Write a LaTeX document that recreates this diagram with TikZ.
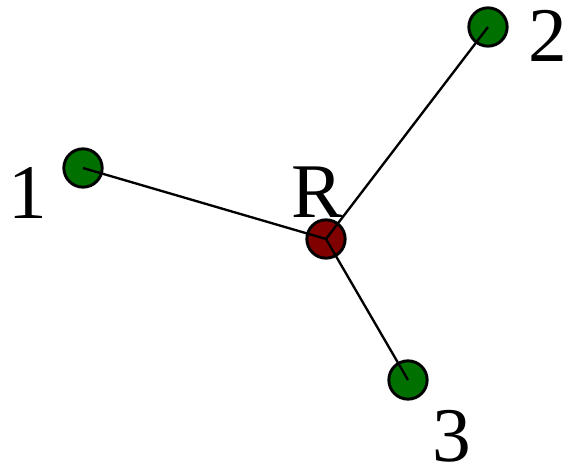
\documentclass[tikz,border=0pt]{standalone}
\usepackage{fontspec}
\setmainfont{Liberation Serif}
\usepackage{tikz}

\definecolor{sitegreen}{RGB}{0,112,0}
\definecolor{rootred}{RGB}{128,0,0}

\begin{document}
\begin{tikzpicture}[
        x=0.03cm, y=-0.03cm,
        site/.style={circle, draw, line width=2.5pt, minimum size=1.15cm, inner sep=0pt},
        tag/.style={font=\fontsize{66}{66}\selectfont, inner sep=0pt},
        link/.style={line width=2pt},
    ]
        \useasboundingbox (0,0) rectangle (577,475);

        % ====== 节点 ======
        \node[site, fill=rootred]    (r)     at (326,239) {};
        \node[site, fill=sitegreen]  (one)   at (83,168)  {};
        \node[site, fill=sitegreen]  (two)   at (488,27)  {};
        \node[site, fill=sitegreen]  (three) at (408,380) {};

        % 标注
        \node[tag] (lone)   at (28,193)  {1};
        \node[tag] (ltwo)   at (548,36)  {2};
        \node[tag] (lr)     at (317,192) {R};
        \node[tag] (lthree) at (452,436) {3};

        % ====== 连线 ======
        \draw[link] (one.center)   -- (r.center);
        \draw[link] (two.center)   -- (r.center);
        \draw[link] (three.center) -- (r.center);
    \end{tikzpicture}
\end{document}
